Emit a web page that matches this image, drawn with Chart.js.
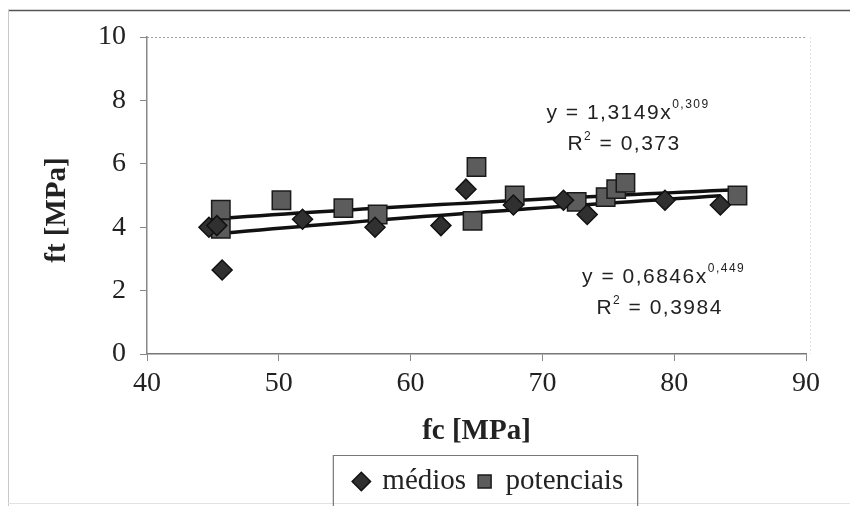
<!DOCTYPE html>
<html>
<head>
<meta charset="utf-8">
<script src="https://cdn.jsdelivr.net/npm/chart.js@4.4.1/dist/chart.umd.min.js"></script>
<style>
  html, body { margin: 0; padding: 0; background: #fff; }
  #wrap { width: 850px; height: 506px; }
</style>
</head>
<body>
<div id="wrap"><canvas id="chart" width="850" height="506"></canvas></div>
<script>
// ft vs fc, mean values and potential values
const mediosX = [44.7, 45.3, 45.7, 51.8, 57.3, 62.3, 64.2, 67.8, 71.6, 73.4, 79.3, 83.5];
const mediosY = [4.0, 4.05, 2.65, 4.25, 4.0, 4.05, 5.2, 4.7, 4.85, 4.4, 4.85, 4.7];
const potX = [45.6, 45.6, 50.2, 54.9, 57.5, 64.7, 65.0, 67.9, 72.6, 74.8, 75.6, 76.3, 84.8];
const potY = [4.55, 3.95, 4.85, 4.6, 4.4, 4.2, 5.9, 5.0, 4.8, 4.95, 5.2, 5.4, 5.0];

// power trendlines y = a * x^b
const fitMedios = { a: 0.6846, b: 0.449, r2: "0,3984" };
const fitPot = { a: 1.3149, b: 0.309, r2: "0,373" };

const xTicks = [40, 50, 60, 70, 80, 90];
const yTicks = [0, 2, 4, 6, 8, 10];

const serif = "'Liberation Serif', 'Times New Roman', serif";
const sans = "'Liberation Sans', Arial, sans-serif";

const toPoints = (xs, ys) => xs.map((x, i) => ({ x: x, y: ys[i] }));

function trend(fit, xs) {
  const lo = Math.min(...xs), hi = Math.max(...xs);
  const pts = [];
  for (let k = 0; k <= 40; k++) {
    const x = lo + (hi - lo) * k / 40;
    pts.push({ x: x, y: fit.a * Math.pow(x, fit.b) });
  }
  return pts;
}

// page frame, dotted top border, legend box, equations
const decor = {
  id: "decor",
  afterLayout(chart) {
    // legend sits a bit right of the page centre
    const lg = chart.legend;
    lg.left += 86;
    lg.right += 86;
  },
  beforeDraw(chart) {
    const ctx = chart.ctx;
    ctx.save();
    ctx.fillStyle = "#fff";
    ctx.fillRect(0, 0, chart.width, chart.height);
    ctx.restore();
  },
  afterDraw(chart) {
    const ctx = chart.ctx;
    const a = chart.chartArea;
    ctx.save();
    // outer frame
    ctx.lineWidth = 1.5;
    ctx.strokeStyle = "#555";
    ctx.beginPath(); ctx.moveTo(8, 10.5); ctx.lineTo(850, 10.5); ctx.stroke();
    ctx.lineWidth = 1;
    ctx.strokeStyle = "#c8c8c8";
    ctx.beginPath(); ctx.moveTo(8.5, 10); ctx.lineTo(8.5, 506); ctx.stroke();
    ctx.strokeStyle = "#e2e2e2";
    ctx.beginPath(); ctx.moveTo(8, 503.5); ctx.lineTo(850, 503.5); ctx.stroke();

    // dotted plot-area border
    ctx.strokeStyle = "#a0a0a0";
    ctx.setLineDash([2, 2]);
    ctx.beginPath(); ctx.moveTo(a.left, a.top + 0.5); ctx.lineTo(a.right, a.top + 0.5); ctx.stroke();
    ctx.strokeStyle = "#e4e4e4";
    ctx.beginPath(); ctx.moveTo(a.right + 4.5, a.top); ctx.lineTo(a.right + 4.5, a.bottom); ctx.stroke();
    ctx.setLineDash([]);

    // legend box
    const boxes = chart.legend.legendHitBoxes;
    if (boxes && boxes.length) {
      const l = Math.min(...boxes.map(b => b.left)) - 22;
      const r = Math.max(...boxes.map(b => b.left + b.width)) + 14;
      ctx.strokeStyle = "#777";
      ctx.lineWidth = 1.2;
      ctx.beginPath();
      ctx.moveTo(l + 0.5, chart.height);
      ctx.lineTo(l + 0.5, 455.5);
      ctx.lineTo(r + 0.5, 455.5);
      ctx.lineTo(r + 0.5, chart.height);
      ctx.stroke();
    }

    // trendline equations
    const xs = chart.scales.x, ys = chart.scales.y;
    const big = "21px " + sans, small = "12px " + sans;
    const eq = (fit, cx, cy) => {
      const base = "y = " + String(fit.a).replace(".", ",") + "x";
      const exp = String(fit.b).replace(".", ",");
      ctx.fillStyle = "#222";
      ctx.textBaseline = "alphabetic";
      ctx.textAlign = "left";
      ctx.letterSpacing = "1.5px";
      ctx.font = big;
      const w1 = ctx.measureText(base).width;
      ctx.font = small;
      const w2 = ctx.measureText(exp).width;
      let x0 = xs.getPixelForValue(cx) - (w1 + w2) / 2;
      const y0 = ys.getPixelForValue(cy);
      ctx.font = big;
      ctx.fillText(base, x0, y0);
      ctx.font = small;
      ctx.fillText(exp, x0 + w1, y0 - 11);
      // R² line
      const r1 = "R", r3 = " = " + fit.r2;
      ctx.font = big;
      const wr1 = ctx.measureText(r1).width, wr3 = ctx.measureText(r3).width;
      ctx.font = small;
      const wr2 = ctx.measureText("2").width;
      x0 = xs.getPixelForValue(cx) - (wr1 + wr2 + wr3) / 2 - 4;
      const y1 = y0 + 31;
      ctx.font = big;
      ctx.fillText(r1, x0, y1);
      ctx.font = small;
      ctx.fillText("2", x0 + wr1, y1 - 10);
      ctx.font = big;
      ctx.fillText(r3, x0 + wr1 + wr2, y1);
    };
    eq(fitPot, 76.5, 7.4);
    eq(fitMedios, 79.2, 2.25);
    ctx.restore();
  }
};

new Chart(document.getElementById("chart"), {
  type: "scatter",
  plugins: [decor],
  data: {
    datasets: [
      {
        label: "médios",
        data: toPoints(mediosX, mediosY),
        pointStyle: "rectRot",
        pointRadius: 10,
        pointHoverRadius: 10,
        backgroundColor: "#303030",
        borderColor: "#111",
        borderWidth: 1.5,
      },
      {
        label: "potenciais",
        data: toPoints(potX, potY),
        pointStyle: "rect",
        pointRadius: 13,
        pointHoverRadius: 13,
        backgroundColor: "#5c5c5c",
        borderColor: "#1a1a1a",
        borderWidth: 1.5,
      },
      {
        label: "trend médios",
        data: trend(fitMedios, mediosX),
        showLine: true,
        pointRadius: 0,
        borderColor: "#111",
        borderWidth: 3.5,
        tension: 0,
      },
      {
        label: "trend potenciais",
        data: trend(fitPot, potX),
        showLine: true,
        pointRadius: 0,
        borderColor: "#111",
        borderWidth: 3.5,
        tension: 0,
      },
    ],
  },
  options: {
    responsive: false,
    animation: false,
    layout: { padding: { left: 0, right: 44, top: 37, bottom: 0 } },
    plugins: {
      tooltip: { enabled: false },
      legend: {
        position: "bottom",
        labels: {
          filter: (item) => item.datasetIndex < 2,
          usePointStyle: true,
          boxWidth: 13,
          boxHeight: 13,
          padding: 12,
          color: "#222",
          font: { family: serif, size: 29 },
        },
      },
    },
    scales: {
      x: {
        type: "linear",
        min: 40,
        max: 90,
        afterBuildTicks: (s) => { s.ticks = xTicks.map(v => ({ value: v })); },
        afterFit: (s) => { s.height = 101; },
        grid: { drawOnChartArea: false, drawTicks: true, tickLength: 7, color: "#888" },
        border: { display: true, color: "#777", width: 1.5 },
        ticks: { color: "#222", padding: 6, font: { family: serif, size: 28 } },
        title: {
          display: true,
          text: "fc [MPa]",
          color: "#222",
          padding: { top: 0, bottom: 6 },
          font: { family: serif, size: 29, weight: "bold" },
        },
      },
      y: {
        min: 0,
        max: 10,
        afterBuildTicks: (s) => { s.ticks = yTicks.map(v => ({ value: v })); },
        afterFit: (s) => { s.width = 147; },
        grid: { drawOnChartArea: false, drawTicks: true, tickLength: 7, color: "#888" },
        border: { display: true, color: "#888", width: 1.5 },
        ticks: { color: "#222", padding: 14, font: { family: serif, size: 28 } },
        title: {
          display: true,
          text: "ft [MPa]\u2002\u2002",
          color: "#222",
          padding: { top: 40, bottom: 0 },
          font: { family: serif, size: 29, weight: "bold" },
        },
      },
    },
  },
});
</script>
</body>
</html>
